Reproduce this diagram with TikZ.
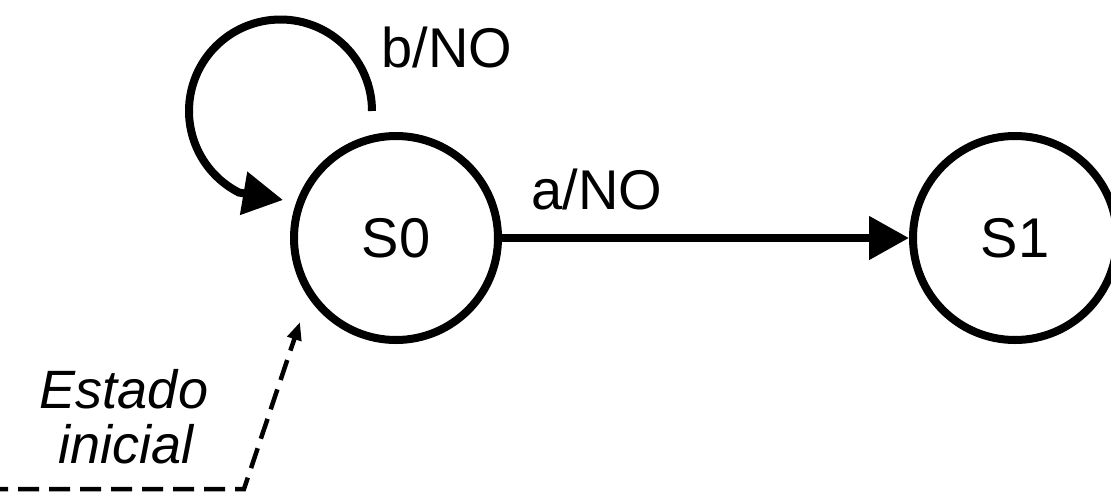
\documentclass[tikz,border=0pt]{standalone}
\usepackage{fontspec}
\setmainfont{Liberation Sans}
\usetikzlibrary{arrows.meta}
\begin{document}
\begin{tikzpicture}[x=1pt,y=-1pt,
  bigtext/.style={font=\fontsize{56}{62}\selectfont},
  state/.style={circle,draw,line width=8pt,minimum size=204pt,inner sep=0pt,bigtext},
  lbl/.style={bigtext,inner sep=0pt,anchor=base},
  note/.style={font=\fontsize{54}{60}\selectfont\itshape,inner sep=0pt,anchor=base},
  edge/.style={line width=8pt,-{Triangle[length=40pt,width=42pt]}},
  init/.style={line width=4.5pt,dash pattern=on 21pt off 10pt,-{Triangle[length=18pt,width=14pt]}}]
\useasboundingbox (0,0) rectangle (1111,493);
\node[state] (s0) at (396,238) {S0};
\node[state] (s1) at (1015,238) {S1};
\draw[edge] (s0) -- (s1);
\node[lbl] (la) at (597,209) {a/NO};
\coordinate (loopstart) at (372,111);
\coordinate (looptip) at (283,200);
\draw[edge] (loopstart) arc[start angle=0,end angle=-243,radius=91.5] -- (looptip);
\node[lbl] (lb) at (447,67) {b/NO};
\coordinate (initstart) at (-44,489);
\coordinate (initcorner) at (244,489);
\coordinate (inittip) at (300,322);
\draw[init] (initstart) -- (initcorner) -- (inittip);
\node[note] (l1) at (124,408) {Estado};
\node[note] (l2) at (126,463) {inicial};
\end{tikzpicture}
\end{document}
